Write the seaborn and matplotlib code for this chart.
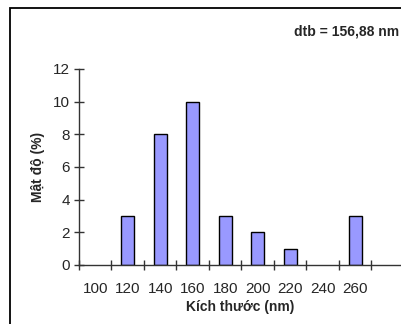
import matplotlib
matplotlib.use("Agg")
import matplotlib.pyplot as plt
import seaborn as sns
import pandas as pd
from matplotlib.patches import Rectangle

# Particle size distribution
sizes = ["100", "120", "140", "160", "180", "200", "220", "240", "260"]
density = [0, 3, 8, 10, 3, 2, 1, 0, 3]
y_ticks = [0, 2, 4, 6, 8, 10, 12]
mean_label = "dtb = 156,88 nm"

sns.set_style("white")
plt.rcParams["font.family"] = ["Liberation Sans", "DejaVu Sans"]
plt.rcParams["font.size"] = 10

df = pd.DataFrame({"size": sizes, "density": density})

fig = plt.figure(figsize=(4.02, 3.24), dpi=100)
ax = fig.add_axes([79 / 402, 59 / 324, 1 - 79 / 402, 196 / 324])

sns.barplot(data=df, x="size", y="density", order=sizes, color="#9999FF",
            edgecolor="black", linewidth=1.0, width=0.4, saturation=1, ax=ax)

# Empty classes get no outline on the baseline
for bar in ax.patches:
    if bar.get_height() == 0:
        bar.set_linewidth(0)

ax.set_ylim(0, 12)
ax.set_xlim(-0.5, 9.44)
ax.set_yticks(y_ticks)

# Category boundaries carry the tick marks, labels sit between them
n = len(sizes)
ax.set_xticks([i - 0.5 for i in range(n + 1)])
ax.set_xticklabels([])
ax.set_xticks(range(n), minor=True)
ax.set_xticklabels(sizes, minor=True)
ax.tick_params(axis="x", which="major", bottom=True, direction="inout",
               length=7, width=1, color="#333333")
ax.tick_params(axis="x", which="minor", bottom=True, length=0, pad=12, labelsize=11)
ax.tick_params(axis="y", left=True, direction="inout", length=7, width=1,
               color="#333333", pad=3, labelsize=11)

for side in ["top", "right"]:
    ax.spines[side].set_visible(False)
for side in ["left", "bottom"]:
    ax.spines[side].set_color("#333333")
    ax.spines[side].set_linewidth(1.0)

ax.set_xlabel("Kích thước (nm)", fontweight="bold", fontsize=10, labelpad=3)
ax.set_ylabel("Mật độ (%)", fontweight="bold", fontsize=10, labelpad=6)

fig.text(399 / 402, 1 - 32 / 324, mean_label, ha="right", va="center",
         fontweight="bold", fontsize=10)

# Outer frame around the chart area
fig.patches.append(Rectangle((10 / 402, -0.1), 1.2, 1 - 8 / 324 + 0.1,
                             transform=fig.transFigure, fill=False,
                             edgecolor="black", linewidth=1.3))

fig.savefig("out.png", dpi=100)
